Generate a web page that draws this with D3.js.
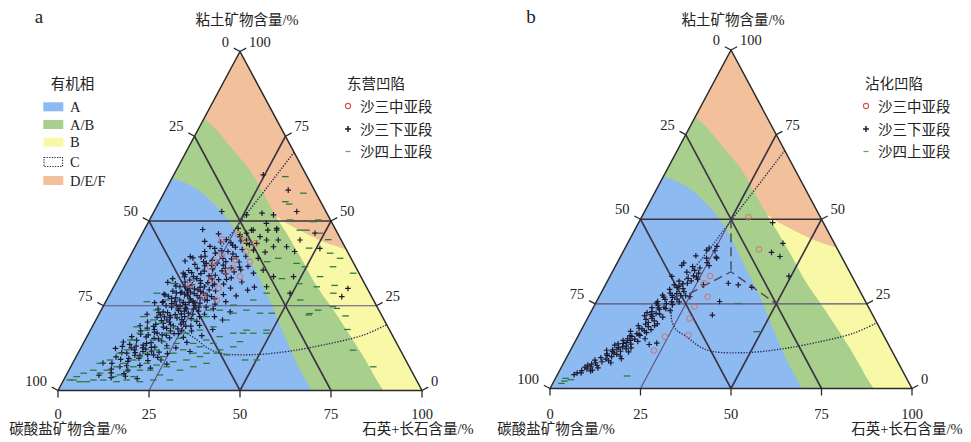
<!DOCTYPE html>
<html><head><meta charset="utf-8">
<script src="https://cdn.jsdelivr.net/npm/d3@7"></script>
<style>body{margin:0;background:#fff}svg{display:block}</style>
</head><body>
<svg id="c" width="971" height="442"></svg>
<script>
// All points are [quartz+feldspar %, clay %]; carbonate % = 100 - qf - clay.
const tickValues = [0, 25, 50, 75, 100];
const faciesNames = ["A", "A/B", "B", "C", "D/E/F"];
const seriesNames = ["沙三中亚段", "沙三下亚段", "沙四上亚段"];
const basinNames = ["东营凹陷", "沾化凹陷"];
const axisTitles = ["粘土矿物含量/%", "碳酸盐矿物含量/%", "石英+长石含量/%"];

// facies boundaries
const bndAB = [[0,62.6],[4.7,61.1],[9.7,58.7],[15.1,55.2],[20.9,50.8],[27.8,44.4],[35.4,36.5],[44.8,26.7],[53.5,16.9],[61.6,8.0],[69.7,0]];
const bndGO = [[0,80.3],[5.2,76.8],[12.7,70.9],[20.2,65.0],[27.3,58.2],[31.8,53.7],[34.5,51.3]];
const bndGY = [[34.5,51.3],[39.6,46.4],[46.8,39.5],[54.8,31.6],[62.1,25.2],[70.4,17.8],[78.9,10.0],[86.0,3.1],[89.4,0]];
const bndOY = [[34.5,51.3],[39.3,48.8],[42.8,47.3],[49.8,44.4],[54.1,42.9],[58.3,41.7]];
const bndC  = [[29.7,70.3],[27.5,60],[25.3,50],[23.2,40],[21.0,31],[21.3,26],[23.0,21],[26.0,17.5],[30.1,15.3],[35.3,12.3],[39.7,10.9],[49.0,10.6],[57.7,11.6],[66.0,13.4],[75.6,16.3],[80.6,19.4]];
const dashVertB = [[25,50],[32.75,34.5]];
const dashLegsB = [[24.5,28],[32.75,34.5],[50,25]];

// Panel a (东营凹陷)
const aMid = [[26.6,45.9],[29.2,44.4],[32.4,43.4],[31.3,41.0],[33.7,38.0],[25.0,40.0],[24.1,38.0],[23.5,36.5],[28.8,35.1],[29.4,38.5],[25.9,32.6],[30.1,36.1],[33.2,33.6],[29.0,30.1],[20.7,31.1],[26.1,27.7],[22.7,44.6],[30.3,26.7]];
const aLower = [[24.6,63.6],[33.7,59.1],[18.6,52.8],[25.9,51.8],[29.9,52.3],[33.3,51.8],[39.2,52.8],
[29.5,47.3],[34.0,47.3],[36.2,47.8],[38.3,44.4],[32.8,45.4],[29.6,44.4],[44.3,44.4],[47.4,46.4],[25.6,47.8],
[36.4,47.3],[32.6,49.3],[30.0,47.3],[28.6,46.4],[27.3,45.4],[32.9,43.4],[35.1,44.4],[38.0,42.4],[41.6,42.4],[35.5,39.0],[33.0,41.4],[38.6,35.5],[42.4,33.6],[36.4,34.6],[47.9,33.6],[51.0,41.9],[64.6,30.1],[64.1,27.7],[30.1,43.4],[42.0,30.6],[49.4,28.7],
[16.0,47.5],[21.0,46.2],
[18.3,44.0],[20.5,42.5],[22.8,43.8],[24.4,41.2],[26.5,42.9],[28.2,44.1],[29.8,41.6],[31.1,43.0],[19.8,41.0],[23.0,40.5],[27.9,40.3],[25.7,43.6],[36.5,40.8],[44.5,41.0],
[15.8,38.2],[17.5,39.1],[19.0,37.2],[20.6,39.6],[21.9,36.8],[23.2,38.4],[24.5,35.9],[25.8,39.0],[26.9,37.0],[28.3,38.8],[29.5,36.2],[30.8,37.9],[32.4,35.6],[18.2,35.4],[22.6,35.2],[27.4,35.3],[21.0,38.0],[16.6,39.5],
[15.0,33.0],[16.5,31.5],[17.8,34.2],[18.9,32.0],[19.6,30.6],[20.4,33.6],[21.3,31.2],[22.0,34.5],[22.9,32.4],[23.8,30.4],[24.6,33.8],[25.3,31.8],[26.2,34.0],[27.0,30.9],[27.8,32.7],[28.9,34.4],[29.8,31.4],[31.0,33.2],[32.3,30.2],[34.5,32.0],[14.2,31.9],[20.9,30.2],[17.1,34.6],[18.2,30.6],[38.7,30.5],
[14.9,28.4],[15.7,26.0],[16.9,29.3],[17.6,27.2],[18.4,25.6],[19.3,28.8],[20.1,26.7],[20.8,29.6],[21.7,27.9],[22.3,25.4],[23.1,28.6],[23.9,26.4],[24.6,29.2],[25.4,27.3],[26.1,25.8],[26.9,28.1],[27.7,26.6],[28.6,29.4],[29.5,27.0],[30.4,25.5],[31.3,28.3],[33.0,26.2],[35.0,27.9],[16.4,27.8],[19.9,25.2],[22.8,27.0],[25.0,25.1],[13.6,25.9],[37.3,29.6],[15.3,28.2],[15.8,26.2],
[15.5,24.0],[16.4,21.6],[17.3,23.2],[18.1,20.6],[18.9,24.6],[19.7,22.1],[20.5,20.2],[21.3,23.6],[22.0,21.4],[22.8,24.3],[23.6,20.9],[24.4,22.8],[25.2,24.0],[26.0,21.2],[26.9,23.4],[27.9,20.4],[29.0,22.5],[30.6,24.1],[32.1,21.8],[34.8,20.8],[17.0,22.3],[20.9,24.1],[23.9,21.8],[13.2,22.5],[28.4,24.6],[35.7,23.2],[19.5,20.8],[22.6,22.6],
[13.0,19.1],[14.4,16.6],[15.3,18.4],[16.3,15.8],[17.1,19.5],[17.9,17.2],[18.7,15.4],[19.6,18.7],[20.4,16.4],[21.2,19.4],[22.1,17.6],[22.9,15.5],[23.8,18.2],[24.7,16.8],[25.6,19.0],[26.6,15.7],[27.9,17.6],[29.3,19.2],[31.4,16.2],[33.5,18.0],[16.6,16.4],[12.3,15.9],[20.0,15.2],[24.0,19.6],[17.4,13.9],
[9.6,12.4],[10.8,14.3],[11.9,11.2],[12.9,13.6],[13.4,11.0],[14.2,14.8],[15.0,12.0],[15.9,10.4],[16.7,13.4],[17.6,11.5],[18.5,14.1],[19.3,10.6],[20.2,12.8],[21.2,14.6],[22.1,11.3],[23.3,13.2],[24.6,10.9],[26.1,12.6],[28.3,14.2],[30.5,11.5],[13.8,12.6],[18.0,12.2],
[8.3,8.1],[10.8,8.0],[11.5,6.3],[12.6,9.2],[13.5,7.0],[14.9,8.6],[16.2,6.0],[17.5,9.5],[18.8,7.4],[20.3,8.8],[22.1,6.6],[23.8,9.0],[26.0,7.8],[12.0,5.2],[15.6,5.0],
[9.0,4.5],[12.7,3.8],[16.4,4.2],[20.0,3.5],
[18.0,33.5],[19.3,34.8],[21.6,33.0],[23.4,31.6],[25.9,32.9],[26.7,29.7],[24.2,28.0],[21.4,26.0],[18.7,27.3],[20.6,28.4],[22.5,30.0],[19.9,32.6],[17.0,30.8],[24.9,30.6],[23.0,26.0],[21.0,22.4],[25.8,22.5],[24.6,25.9],[18.6,23.0],[20.1,21.5],[22.2,19.0],[19.0,19.8],[21.6,16.3],[18.8,16.9],[23.5,16.8],[25.2,17.6],[17.5,18.0],[28.0,21.8],[26.9,26.8],[29.9,32.8],[31.7,36.4],[27.1,38.0],[25.0,37.6],[23.8,36.9],[22.0,37.5],[20.3,36.0],[26.2,41.0],[29.2,39.5],[24.0,44.5],[27.0,46.0],[19.3,12.7],[15.6,11.2],[17.3,10.4],[14.7,9.5],[21.0,10.5],
[19.5,29.0],[21.9,29.0],[23.6,29.7],[17.2,25.0],[19.0,26.2],[21.1,24.9],[23.3,24.1],[25.6,28.7],[27.3,31.4],[28.3,27.7],[18.1,28.8],[16.2,23.0],[14.5,20.2],[16.8,18.9],[18.4,21.7],[20.7,18.3],[23.0,23.4],[26.4,24.6],[24.3,20.3],[27.0,19.0],[13.9,17.6],[11.2,13.0],[14.9,13.1],[17.0,12.6],[19.9,11.6],[22.5,9.8],[15.2,7.3],[11.0,9.9],[30.9,35.0],[33.9,36.6],[28.0,36.0],[31.8,39.6],[27.6,42.3],[22.1,41.9],[19.6,39.4]];
const aUpper4 = [[1.7,3.1],[4.7,2.6],[8.2,3.1],[9.0,5.1],[10.4,6.0],[13.2,4.1],[14.7,4.6],[16.1,5.6],[17.2,7.0],[19.5,6.0],[20.4,8.0],[23.3,7.5],[26.4,7.0],[27.4,8.5],[30.8,9.0],[34.0,10.0],[35.3,11.0],[38.5,12.0],[41.7,12.9],[18.7,4.1],[24.6,3.1],[29.2,3.1],[14.8,2.6],[18.9,11.0],[21.1,12.0],[23.7,12.4],[25.6,13.9],[30.2,13.9],[33.3,14.9],[39.7,16.9],[42.9,17.8],[45.2,16.9],[48.4,17.8],[46.9,9.0],[50.1,9.0],[41.1,10.5],[38.1,11.0],[42.8,14.4],[21.4,16.9],[15.5,17.8],[14.0,16.9],[13.2,14.9],[12.9,12.0],[11.5,11.0],[9.8,9.0],[7.5,8.0],[6.7,6.0],[4.5,5.1],[26.8,16.9],[30.1,17.8],[33.3,18.8],[35.9,20.8],[36.8,22.8],[39.9,23.7],[40.3,26.7],[43.0,28.7],[44.1,22.8],[15.8,20.8],[12.5,21.8],[12.2,18.8],[3.1,4.1],[6.6,2.6],[10.9,3.1],[17.3,3.1],[21.2,2.6],[25.7,4.6],[30.5,6.0],[33.7,7.0],[36.8,8.0],[22.3,6.0],[23.9,10.0],[26.2,11.0],[28.4,12.0],[31.7,11.0],[17.5,10.0],[16.2,9.0],[12.6,7.0],[13.9,8.0],[18.7,14.9],[21.7,14.4],[25.8,15.4],[32.5,12.9],[35.7,13.9],[36.5,15.9],[22.3,18.8],[18.1,19.8],[26.8,20.8],[29.9,21.8],[32.6,23.7],[15.2,23.7],[11.3,26.2],[12.8,28.7],[15.9,31.6],[16.5,26.7],[29.4,23.7],[35.6,25.2],[42.4,16.9],[47.3,22.8],[48.8,16.9],[12.4,14.9],[2.7,3.1],
[30.9,63.1],[38.3,58.2],[34.6,55.7],[36.0,55.0],[46.4,50.3],[38.6,50.3],[44.6,47.3],[42.8,47.3],[48.8,46.4],[45.2,49.8],[54.5,40.5],[57.3,36.5],[55.2,33.6],[55.8,30.6],[49.6,36.5],[46.8,37.5],[41.0,39.0],[38.5,38.0],[53.2,26.7],[57.8,22.7],[64.5,24.2],[75.1,11.9],[83.1,7.0],[61.3,28.7],[63.8,34.6],[58.0,39.0],[60.5,31.0],[50.5,31.5],[45.0,33.0],[48.0,42.0],[52.0,44.5],[68.0,22.0],[70.5,18.0],[59.6,23.7],[57.7,22.3],[63.2,24.7]];

// Panel b (沾化凹陷)
const bMid = [[29.5,50.6],[37.2,41.1],[27.6,33.2],[27.0,31.1],[30.0,27.1],[27.8,24.2],[28.2,20.7],[30.3,15.8],[24.1,15.3],[23.1,11.2]];
const bLower = [[5.2,4.6],[6.1,5.3],[4.6,4.1],[7.3,5.8],[8.1,6.4],[7.0,6.9],[8.8,7.6],[9.6,6.8],[10.4,7.9],[8.2,8.4],[9.5,9.1],[11.1,8.7],[12.3,9.4],[10.6,10.2],[11.8,10.9],[13.4,10.1],[14.6,9.6],[12.7,11.6],[13.9,12.3],[15.2,11.7],[16.3,10.8],[11.5,12.8],[14.4,13.6],[15.8,13.1],[13.1,14.2],[16.1,14.6],[17.3,13.9],[14.9,15.4],[15.9,16.2],[17.0,15.7],[18.4,16.5],[13.8,16.9],[16.6,17.6],[18.0,18.3],[19.2,17.4],[15.1,18.6],[17.4,19.5],[18.8,20.0],[20.1,19.1],[16.3,20.4],[15.4,21.5],[17.6,21.3],[19.3,22.0],[20.6,21.1],[16.8,22.7],[18.5,23.4],[16.2,23.9],[20.2,23.6],[17.5,24.6],[19.6,25.1],[21.4,24.8],[22.9,25.6],[16.9,25.7],[18.6,26.3],[20.4,26.9],[21.9,26.4],[17.3,27.6],[19.1,28.2],[21.0,28.0],[22.7,28.6],[23.8,27.4],[18.4,29.3],[20.2,29.8],[19.0,30.6],[21.2,30.9],[23.1,31.8],[24.6,32.3],[21.9,32.5],[20.6,34.4],[22.5,34.9],[24.0,34.1],[18.2,36.4],[18.4,37.1],[24.8,37.2],[20.7,39.2],[26.5,38.8],[22.8,40.9],[25.2,40.7],[23.2,41.5],[25.1,42.0],[17.1,33.1],[14.1,14.7],[12.2,13.2],[10.0,11.3],[14.8,12.5],[22.8,13.4],[20.9,13.0],[13.0,7.6],[15.3,8.8],[6.5,6.3],[9.0,5.4],
[16.9,19.0],[17.8,20.7],[18.2,22.2],[19.5,24.0],[15.7,17.8],[14.3,15.6],[12.9,12.1],[16.8,25.2],[20.0,27.5],[22.0,29.5],[19.8,31.7],[23.0,33.3],[21.4,36.0],[15.6,22.4],[12.4,10.5],[10.9,9.8],[17.9,27.0],[21.7,23.0],[18.9,14.7],[16.4,12.0],
[14.0,11.0],[12.1,8.2],[10.2,6.1],[8.6,5.2],[16.6,16.0],[17.6,17.0],[19.6,18.6],[18.0,23.8],[20.8,25.6],[22.4,27.4],[20.5,30.3],[22.4,31.1],[23.6,35.6],[25.8,36.3],[17.0,21.8],[15.1,14.2],[13.6,13.3],[11.6,11.4],[6.3,4.6],[7.9,7.2],
[37.0,49.0],[42.9,42.9],[41.1,40.2],[44.0,39.0],[49.4,33.2],[24.0,38.5],[26.8,38.5],[24.0,33.0],[27.1,30.6],[33.7,31.1],[36.7,30.6],[40.8,29.9],[34.0,25.7],[34.0,21.7],[25.1,27.1]];
const bUpper4 = [[39.4,25.1],[48.7,16.8],[19.4,3.7],[2.8,3.0],[4.5,2.6],[2.9,2.2],[2.4,1.5]];

const COL = {A:"#8dbaf0", AB:"#a8cf8c", B:"#f9f8a6", DEF:"#f3c09c"};
const faciesColors = [COL.A, COL.AB, COL.B, "none", COL.DEF];
const SERIF = "'Liberation Serif','Noto Sans CJK SC',serif";

const svg = d3.select("#c");

const panels = [
  {left:58, W:364, bottom:390.5, H:339, tag:"a", tagX:39, basin:0, mid:aMid, lower:aLower, upper:aUpper4, legX:348, facies:true,
   titleX:[247, 68, 418]},
  {left:550, W:362, bottom:388.5, H:338.5, tag:"b", tagX:531, basin:1, mid:bMid, lower:bLower, upper:bUpper4, legX:866, facies:false,
   titleX:[733, 556, 907]}
];

function drawPanel(cfg) {
  const g = svg.append("g");
  const xs = d3.scaleLinear().domain([0,100]).range([cfg.left, cfg.left+cfg.W]);
  const ys = d3.scaleLinear().domain([0,100]).range([cfg.bottom, cfg.bottom-cfg.H]);
  const P = d => [xs(d[0] + d[1]/2), ys(d[1])];
  const M = d => "M" + P(d).join(",");
  const L = d => "L" + P(d).join(",");
  const crv = pts => d3.line().curve(d3.curveCatmullRom.alpha(0.5))(pts.map(P));
  const cont = s => "L" + s.slice(1);

  // facies regions
  g.append("path").attr("d", M([0,0])+L([0,100])+L([100,0])+"Z").attr("fill", COL.B);
  const oyEnd = bndOY[bndOY.length-1];
  g.append("path").attr("fill", COL.AB)
    .attr("d", M([0,0])+L([0,100])+L(oyEnd)+cont(crv(bndOY.slice().reverse().concat(bndGY.slice(1))))+"Z");
  g.append("path").attr("fill", COL.A).attr("d", M([0,0])+cont(crv(bndAB))+"Z");
  g.append("path").attr("fill", COL.DEF).attr("d", M([0,100])+cont(crv(bndGO.concat(bndOY.slice(1))))+"Z");

  // grid
  const major = [[[0,50],[50,50]], [[0,50],[50,0]], [[50,0],[50,50]], [[0,75],[75,0]], [[25,50],[25,75]]];
  const minor = [[[0,25],[75,25]], [[25,0],[25,50]]];
  minor.forEach(s => g.append("path").attr("d", M(s[0])+L(s[1])).attr("stroke","#5e4f7c").attr("stroke-width",1.1).attr("fill","none"));
  major.forEach(s => g.append("path").attr("d", M(s[0])+L(s[1])).attr("stroke","#3a3242").attr("stroke-width",1.6).attr("fill","none"));

  // facies C dotted boundary
  g.append("path").attr("d", crv(bndC)).attr("fill","none").attr("stroke","#2b2850")
    .attr("stroke-width",1.4).attr("stroke-dasharray","1.3,1.5");

  if (!cfg.facies) {
    g.append("path").attr("d", M(dashVertB[0])+L(dashVertB[1])).attr("fill","none")
      .attr("stroke","#4a4658").attr("stroke-width",1.4).attr("stroke-dasharray","9,5");
    g.append("path").attr("d", d3.line()(dashLegsB.map(P))).attr("fill","none")
      .attr("stroke","#4a4658").attr("stroke-width",1.4).attr("stroke-dasharray","9,5");
  }

  // points
  g.selectAll("path.cr").data(cfg.lower).join("path").attr("class","cr")
    .attr("d", d => { const [x,y]=P(d); return `M${x-2.8},${y}h5.6M${x},${y-2.8}v5.6`; })
    .attr("stroke","#1d192e").attr("stroke-width",1.2).attr("fill","none");
  g.selectAll("path.ds").data(cfg.upper).join("path").attr("class","ds")
    .attr("d", d => { const [x,y]=P(d); return `M${x-3.3},${y}h6.6`; })
    .attr("stroke","#2c7a42").attr("stroke-width",1.3).attr("fill","none");
  g.selectAll("circle.ci").data(cfg.mid).join("circle").attr("class","ci")
    .attr("cx", d => P(d)[0]).attr("cy", d => P(d)[1]).attr("r", 2.8)
    .attr("fill","none").attr("stroke","#d46a60").attr("stroke-width",0.9);

  // outline
  g.append("path").attr("d", M([0,0])+L([0,100])+L([100,0])+"Z").attr("fill","none")
    .attr("stroke","#2b2b2b").attr("stroke-width",1.5);

  // ticks & labels
  const len = Math.hypot(cfg.W/2, cfg.H);
  const nL = [-cfg.H/len, -(cfg.W/2)/len], nR = [cfg.H/len, -(cfg.W/2)/len];
  const tk = g.append("g").attr("stroke","#2b2b2b").attr("stroke-width",1.3);
  const lab = g.append("g").attr("font-family", SERIF).attr("font-size", 14.5).attr("fill","#222");
  tickValues.forEach(v => {
    const pl = P([0, 100-v]);
    tk.append("line").attr("x1",pl[0]).attr("y1",pl[1]).attr("x2",pl[0]+7*nL[0]).attr("y2",pl[1]+7*nL[1]);
    lab.append("text").attr("x", pl[0]-11).attr("y", pl[1]-5).attr("text-anchor","end").text(v);
    const pr = P([100-v, v]);
    tk.append("line").attr("x1",pr[0]).attr("y1",pr[1]).attr("x2",pr[0]+7*nR[0]).attr("y2",pr[1]+7*nR[1]);
    lab.append("text").attr("x", pr[0]+9).attr("y", pr[1]-5).attr("text-anchor","start").text(v);
    const pb = P([v, 0]);
    tk.append("line").attr("x1",pb[0]).attr("y1",pb[1]).attr("x2",pb[0]).attr("y2",pb[1]+7);
    lab.append("text").attr("x", pb[0]).attr("y", 419).attr("text-anchor","middle").text(v);
  });

  // axis titles
  lab.append("text").attr("x", cfg.titleX[0]).attr("y", 25).attr("text-anchor","middle").text(axisTitles[0]);
  lab.append("text").attr("x", cfg.titleX[1]).attr("y", 434).attr("text-anchor","middle").text(axisTitles[1]);
  lab.append("text").attr("x", cfg.titleX[2]).attr("y", 434).attr("text-anchor","middle").text(axisTitles[2]);
  lab.append("text").attr("x", cfg.tagX).attr("y", 23).attr("font-size", 19).attr("text-anchor","middle").text(cfg.tag);

  // series legend
  const lx = cfg.legX;
  lab.append("text").attr("x", lx+28).attr("y", 89).attr("text-anchor","middle").text(basinNames[cfg.basin]);
  const rows = [106, 129, 151.5];
  g.append("circle").attr("cx", lx).attr("cy", rows[0]).attr("r", 2.6).attr("fill","none").attr("stroke","#d9554c").attr("stroke-width",1.1);
  g.append("path").attr("d", `M${lx-3},${rows[1]}h6M${lx},${rows[1]-3}v6`).attr("stroke","#1f1b30").attr("stroke-width",1.5);
  g.append("path").attr("d", `M${lx-2.5},${rows[2]}h5`).attr("stroke","#5aa374").attr("stroke-width",1.2);
  seriesNames.forEach((s,i) => lab.append("text").attr("x", lx+12).attr("y", rows[i]+5.5).text(s));

  // facies legend
  if (cfg.facies) {
    lab.append("text").attr("x", 72.5).attr("y", 89).attr("text-anchor","middle").text("有机相");
    const fy = [102.3, 120, 137.7, 157.5, 176];
    faciesNames.forEach((f,i) => {
      if (faciesColors[i] === "none") {
        g.append("rect").attr("x",44).attr("y",fy[i]).attr("width",18.5).attr("height",9)
          .attr("fill","none").attr("stroke","#2b2850").attr("stroke-width",1.2).attr("stroke-dasharray","1.3,1.3");
      } else {
        g.append("rect").attr("x",43.3).attr("y",fy[i]).attr("width",20).attr("height",9).attr("fill",faciesColors[i]);
      }
      lab.append("text").attr("x", 70).attr("y", fy[i]+9.5).text(f);
    });
  }
}
panels.forEach(drawPanel);
</script>
</body></html>
